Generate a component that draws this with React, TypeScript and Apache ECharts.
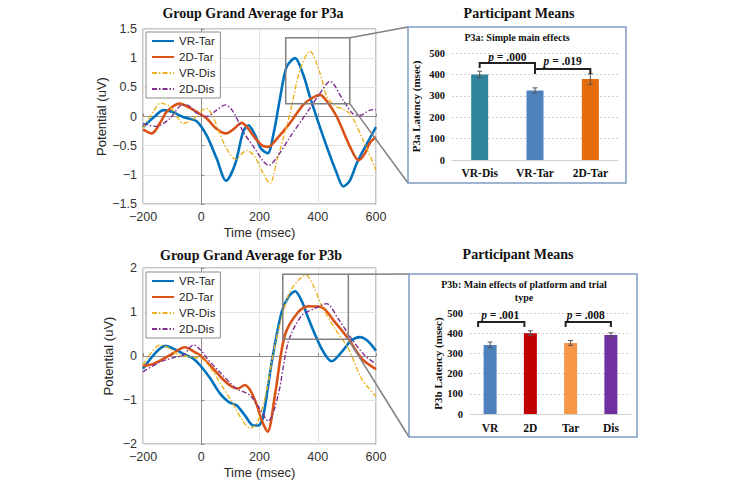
import React, { useEffect, useRef } from "react";
import * as echarts from "echarts";

// ---------- P3a grand averages (time msec, potential uV) ----------
const vrTarA = [[-200,-0.18],[-160,0.0],[-130,0.11],[-100,0.08],[-62,-0.01],[-16,-0.08],[18,-0.32],[53,-0.72],[85,-1.1],[116,-0.82],[144,-0.26],[162,-0.15],[185,-0.32],[205,-0.55],[228,-0.63],[248,-0.3],[270,0.3],[293,0.85],[322,1.0],[350,0.72],[373,0.34],[419,-0.35],[465,-0.97],[488,-1.2],[510,-1.1],[534,-0.8],[565,-0.5],[600,-0.18]];
const twoDTarA = [[-200,-0.22],[-170,-0.29],[-140,-0.1],[-119,0.08],[-75,0.22],[-40,0.15],[-16,0.08],[18,-0.03],[50,-0.2],[85,-0.29],[110,-0.22],[139,-0.11],[160,-0.2],[185,-0.37],[210,-0.5],[230,-0.52],[260,-0.38],[305,-0.11],[350,0.2],[385,0.33],[408,0.37],[430,0.27],[465,0.0],[511,-0.52],[540,-0.75],[560,-0.65],[579,-0.45],[600,-0.35]];
const vrDisA = [[-200,-0.2],[-165,0.08],[-140,0.23],[-110,0.18],[-90,0.05],[-62,-0.12],[-30,-0.05],[18,0.14],[40,0.0],[60,-0.25],[87,-0.55],[118,-0.73],[156,-0.58],[185,-0.7],[215,-1.0],[236,-1.15],[260,-0.75],[305,0.06],[339,0.8],[373,1.12],[408,0.74],[431,0.34],[460,0.18],[490,0.12],[515,0.02],[555,-0.4],[600,-0.92]];
const twoDDisA = [[-200,-0.12],[-155,-0.17],[-107,-0.03],[-73,0.18],[-50,0.2],[-16,0.06],[18,0.0],[53,0.11],[82,0.2],[110,0.08],[144,-0.26],[184,-0.55],[210,-0.75],[232,-0.84],[260,-0.7],[305,-0.35],[362,0.06],[408,0.4],[442,0.6],[487,0.28],[520,0.05],[545,0.02],[579,0.11],[600,0.12]];

// ---------- P3b grand averages ----------
const vrTarB = [[-200,-0.29],[-160,0.05],[-124,0.23],[-90,0.15],[-62,0.05],[-30,-0.05],[-4,-0.21],[30,-0.5],[64,-0.85],[95,-1.05],[121,-1.12],[150,-1.35],[179,-1.58],[196,-1.58],[212,-1.4],[242,-0.14],[276,1.0],[300,1.35],[322,1.47],[345,1.25],[368,0.85],[413,0.17],[448,-0.12],[482,0.09],[515,0.35],[545,0.43],[570,0.35],[600,0.12]];
const twoDTarB = [[-200,-0.22],[-165,-0.18],[-107,0.02],[-56,0.2],[-20,0.08],[-4,0.02],[41,-0.29],[70,-0.5],[99,-0.67],[125,-0.74],[150,-0.66],[170,-0.8],[190,-1.1],[210,-1.5],[228,-1.72],[253,-0.89],[287,0.47],[333,1.0],[368,1.13],[413,1.11],[459,0.77],[505,0.39],[551,-0.06],[600,-0.3]];
const vrDisB = [[-200,-0.2],[-175,0.05],[-142,0.25],[-110,0.18],[-84,0.05],[-39,-0.02],[7,-0.08],[35,-0.3],[64,-0.6],[110,-1.1],[140,-1.45],[167,-1.64],[190,-1.55],[219,-0.95],[253,0.24],[299,1.38],[330,1.7],[360,1.84],[385,1.6],[413,1.15],[459,0.62],[505,0.17],[551,-0.52],[600,-0.92]];
const twoDDisB = [[-200,-0.36],[-142,-0.14],[-96,-0.04],[-62,0.02],[-27,0.25],[0,0.12],[18,-0.04],[64,-0.37],[121,-0.74],[167,-0.89],[201,-1.2],[230,-1.48],[264,-0.89],[299,0.32],[345,0.92],[390,1.08],[430,1.19],[470,0.85],[516,0.39],[562,0.01],[600,-0.18]];

const seriesNames = ["VR-Tar", "2D-Tar", "VR-Dis", "2D-Dis"];
const xTicksLine = [-200, 0, 200, 400, 600];

// ---------- Participant means ----------
const catsA = ["VR-Dis", "VR-Tar", "2D-Tar"];
const meansA = [400, 325, 378];
const errA = [15, 12, 25];
const colorsA = ["#31859C", "#4F81BD", "#E46C0A"];

const catsB = ["VR", "2D", "Tar", "Dis"];
const meansB = [342, 400, 352, 391];
const errB = [14, 12, 12, 11];
const colorsB = ["#4F81BD", "#C00000", "#F79646", "#7030A0"];

const pLabelsA = [".000", ".019"];
const pLabelsB = [".001", ".008"];

const SANS = "Liberation Sans";
const SERIF = "Liberation Serif";
const lineColors = ["#0072BD", "#D95319", "#EDB120", "#7E2F8E"];

const minus = (v: number) => String(v).replace("-", "\u2212");

function lineSeries(name: string, data: number[][], idx: number, grid: number) {
  const solid = idx < 2;
  return {
    type: "line",
    name,
    data,
    xAxisIndex: grid,
    yAxisIndex: grid,
    symbol: "none",
    showSymbol: false,
    smooth: 0.3,
    z: 2 + idx,
    lineStyle: {
      color: lineColors[idx],
      width: solid ? 2.6 : 1.4,
      type: solid ? "solid" : [5, 2, 1.5, 2],
    },
    itemStyle: { color: lineColors[idx] },
  };
}

function lineAxes(grid: number, yMin: number, yMax: number, yInt: number) {
  const x = {
    type: "value",
    gridIndex: grid,
    min: -200,
    max: 600,
    interval: 200,
    name: "Time (msec)",
    nameLocation: "middle",
    nameGap: 22,
    nameTextStyle: { fontFamily: SANS, fontSize: 13, color: "#262626" },
    axisLine: { show: true, lineStyle: { color: "#8c8c8c" } },
    axisTick: { show: true, inside: true, length: 3, lineStyle: { color: "#8c8c8c" } },
    axisLabel: { fontFamily: SANS, fontSize: 12.5, color: "#333", margin: 6, formatter: (v: number) => (xTicksLine.includes(v) ? minus(v) : "") },
    splitLine: { show: true, lineStyle: { color: "#e3e3e3" } },
  };
  const y = {
    type: "value",
    gridIndex: grid,
    min: yMin,
    max: yMax,
    interval: yInt,
    name: "Potential (uV)",
    nameLocation: "middle",
    nameGap: 28,
    nameTextStyle: { fontFamily: SANS, fontSize: 13, color: "#262626" },
    axisLine: { show: true, lineStyle: { color: "#8c8c8c" } },
    axisTick: { show: true, inside: true, length: 3, lineStyle: { color: "#8c8c8c" } },
    axisLabel: { fontFamily: SANS, fontSize: 12.5, color: "#333", margin: 6, formatter: (v: number) => minus(v) },
    splitLine: { show: true, lineStyle: { color: "#e3e3e3" } },
  };
  return { x, y };
}

function barAxes(grid: number, cats: string[], yName: string, nameGap: number, labelMargin: number) {
  const x = {
    type: "category",
    gridIndex: grid,
    data: cats,
    axisLine: { show: true, lineStyle: { color: "#d0d0d0" } },
    axisTick: { show: false },
    axisLabel: { fontFamily: SERIF, fontWeight: "bold", fontSize: 11.5, color: "#111", margin: labelMargin },
    splitLine: { show: false },
  };
  const y = {
    type: "value",
    gridIndex: grid,
    min: 0,
    max: 500,
    interval: 100,
    name: yName,
    nameLocation: "middle",
    nameGap,
    nameTextStyle: { fontFamily: SERIF, fontWeight: "bold", fontSize: 11, color: "#111" },
    axisLine: { show: false },
    axisTick: { show: false },
    axisLabel: { fontFamily: SERIF, fontWeight: "bold", fontSize: 10.5, color: "#111", margin: 7 },
    splitLine: { show: true, lineStyle: { color: "#d4d4d4", type: [2, 2] } },
  };
  return { x, y };
}

function errorSeries(grid: number, means: number[], errs: number[]) {
  return {
    type: "custom",
    xAxisIndex: grid,
    yAxisIndex: grid,
    z: 10,
    data: means.map((m, i) => [i, m - errs[i], m + errs[i]]),
    renderItem: (_p: any, api: any) => {
      const lo = api.coord([api.value(0), api.value(1)]);
      const hi = api.coord([api.value(0), api.value(2)]);
      const w = 2.5;
      const st = { stroke: "#555", lineWidth: 1 };
      return {
        type: "group",
        children: [
          { type: "line", shape: { x1: hi[0], y1: hi[1], x2: lo[0], y2: lo[1] }, style: st },
          { type: "line", shape: { x1: hi[0] - w, y1: hi[1], x2: hi[0] + w, y2: hi[1] }, style: st },
          { type: "line", shape: { x1: lo[0] - w, y1: lo[1], x2: lo[0] + w, y2: lo[1] }, style: st },
        ],
      };
    },
  };
}

export default function App() {
  const ref = useRef<HTMLDivElement>(null);
  useEffect(() => {
    document.body.style.margin = "0";
    const chart = echarts.init(ref.current!, null, { renderer: "svg" });
    const a0 = lineAxes(0, -1.5, 1.5, 0.5);
    const a1 = lineAxes(1, -2, 2, 1);
    const b2 = barAxes(2, catsA, "P3a Latency (msec)", 31, 7);
    const b3 = barAxes(3, catsB, "P3b Latency (msec)", 27, 8);
    const legendBase = {
      data: seriesNames,
      orient: "vertical",
      left: 146,
      itemWidth: 22,
      itemHeight: 10,
      itemGap: 4,
      padding: [3, 5, 3, 5],
      backgroundColor: "#fff",
      borderColor: "#8c8c8c",
      borderWidth: 1,
      itemStyle: { opacity: 0 },
      textStyle: { fontFamily: SANS, fontSize: 11.5, color: "#262626" },
      z: 20,
    };
    chart.setOption({
      animation: false,
      backgroundColor: "#fff",
      grid: [
        { left: 143, top: 29, width: 233, height: 175, show: true, borderColor: "#8c8c8c", borderWidth: 1, backgroundColor: "transparent" },
        { left: 143, top: 268, width: 233, height: 176, show: true, borderColor: "#8c8c8c", borderWidth: 1, backgroundColor: "transparent" },
        { left: 452, top: 53, width: 166, height: 107 },
        { left: 470, top: 313, width: 161, height: 101 },
      ],
      xAxis: [a0.x, a1.x, b2.x, b3.x],
      yAxis: [a0.y, a1.y, b2.y, b3.y],
      legend: [
        { ...legendBase, top: 32 },
        { ...legendBase, top: 272 },
      ],
      series: [
        lineSeries("VR-Tar", vrTarA, 0, 0),
        lineSeries("2D-Tar", twoDTarA, 1, 0),
        lineSeries("VR-Dis", vrDisA, 2, 0),
        lineSeries("2D-Dis", twoDDisA, 3, 0),
        lineSeries("VR-Tar", vrTarB, 0, 1),
        lineSeries("2D-Tar", twoDTarB, 1, 1),
        lineSeries("VR-Dis", vrDisB, 2, 1),
        lineSeries("2D-Dis", twoDDisB, 3, 1),
        {
          type: "bar",
          xAxisIndex: 2,
          yAxisIndex: 2,
          barWidth: 17,
          data: meansA.map((v, i) => ({ value: v, itemStyle: { color: colorsA[i] } })),
        },
        errorSeries(2, meansA, errA),
        {
          type: "bar",
          xAxisIndex: 3,
          yAxisIndex: 3,
          barWidth: 13,
          data: meansB.map((v, i) => ({ value: v, itemStyle: { color: colorsB[i] } })),
        },
        errorSeries(3, meansB, errB),
      ],
    });

    const px = (grid: number, pt: any[]) => chart.convertToPixel({ gridIndex: grid } as any, pt) as number[];
    const gray = { stroke: "#808080", lineWidth: 1.5, fill: "none" };
    const boxStyle = { stroke: "#7f9cc4", lineWidth: 1.5, fill: "none" };

    // zoom rectangles in the line plots
    const zA0 = px(0, [290, 1.35]);
    const zA1 = px(0, [510, 0.22]);
    const zB0 = px(1, [280, 1.86]);
    const zB1 = px(1, [505, 0.38]);

    const boxA = { x: 408, y: 27, w: 218, h: 156 };
    const boxB = { x: 409, y: 274, w: 228, h: 163 };

    const bracket = (grid: number, c0: number, c1: number, off0: number, off1: number, top: number, end: number) => {
      const l = px(grid, [c0, top]);
      const r = px(grid, [c1, top]);
      const le = px(grid, [c0, end]);
      return {
        type: "polyline",
        z: 30,
        shape: { points: [[l[0] + off0, le[1]], [l[0] + off0, l[1]], [r[0] + off1, r[1]], [r[0] + off1, le[1]]] },
        style: { stroke: "#222", lineWidth: 2, fill: "none" },
      };
    };
    const pText = (grid: number, c0: number, c1: number, val: number, label: string, dx: number) => {
      const a = px(grid, [c0, val]);
      const b = px(grid, [c1, val]);
      return {
        type: "text",
        z: 30,
        x: (a[0] + b[0]) / 2 + dx,
        y: a[1],
        style: {
          text: "{i|p} = " + label,
          fontFamily: SERIF,
          fontSize: 11.5,
          fontWeight: "bold",
          fill: "#111",
          textAlign: "center",
          textVerticalAlign: "middle",
          rich: { i: { fontStyle: "italic", fontFamily: SERIF, fontSize: 11.5, fontWeight: "bold", fill: "#111" } },
        },
      };
    };
    const title = (x: number, y: number, text: string, size: number) => ({
      type: "text",
      x,
      y,
      z: 30,
      style: {
        text,
        font: `bold ${size}px "${SERIF}"`,
        fill: "#111",
        textAlign: "center",
        textVerticalAlign: "middle",
      },
    });

    chart.setOption({
      graphic: [
        title(253, 13, "Group Grand Average for P3a", 14),
        title(251, 255, "Group Grand Average for P3b", 14),
        title(519, 13, "Participant Means", 14),
        title(518, 254, "Participant Means", 14),
        title(517, 37, "P3a: Simple main effects", 10),
        title(524, 284, "P3b: Main effects of platform and trial", 10),
        title(524, 297, "type", 10),
        { type: "rect", z: 25, shape: { x: zA0[0], y: zA0[1], width: zA1[0] - zA0[0], height: zA1[1] - zA0[1] }, style: gray },
        { type: "rect", z: 25, shape: { x: zB0[0], y: zB0[1], width: zB1[0] - zB0[0], height: zB1[1] - zB0[1] }, style: gray },
        { type: "line", z: 25, shape: { x1: zA1[0], y1: zA0[1], x2: boxA.x, y2: boxA.y }, style: gray },
        { type: "line", z: 25, shape: { x1: zA1[0], y1: zA1[1], x2: boxA.x, y2: boxA.y + boxA.h }, style: gray },
        { type: "line", z: 25, shape: { x1: zB1[0], y1: zB0[1], x2: boxB.x, y2: boxB.y }, style: gray },
        { type: "line", z: 25, shape: { x1: zB1[0], y1: zB1[1], x2: boxB.x, y2: boxB.y + boxB.h }, style: gray },
        { type: "rect", z: 26, shape: { x: boxA.x, y: boxA.y, width: boxA.w, height: boxA.h }, style: boxStyle },
        { type: "rect", z: 26, shape: { x: boxB.x, y: boxB.y, width: boxB.w, height: boxB.h }, style: boxStyle },
        bracket(2, 0, 1, 0, 0, 453, 430),
        bracket(2, 1, 2, 0, 0, 425, 402),
        pText(2, 0, 1, 481, pLabelsA[0], 0),
        pText(2, 1, 2, 463, pLabelsA[1], 0),
        bracket(3, 0, 1, -12, -6, 455, 431),
        bracket(3, 2, 3, -5, 0, 455, 431),
        pText(3, 0, 1, 490, pLabelsB[0], -10),
        pText(3, 2, 3, 490, pLabelsB[1], -5),
      ],
    });
    return () => chart.dispose();
  }, []);
  return <div ref={ref} style={{ width: 746, height: 483 }} />;
}
